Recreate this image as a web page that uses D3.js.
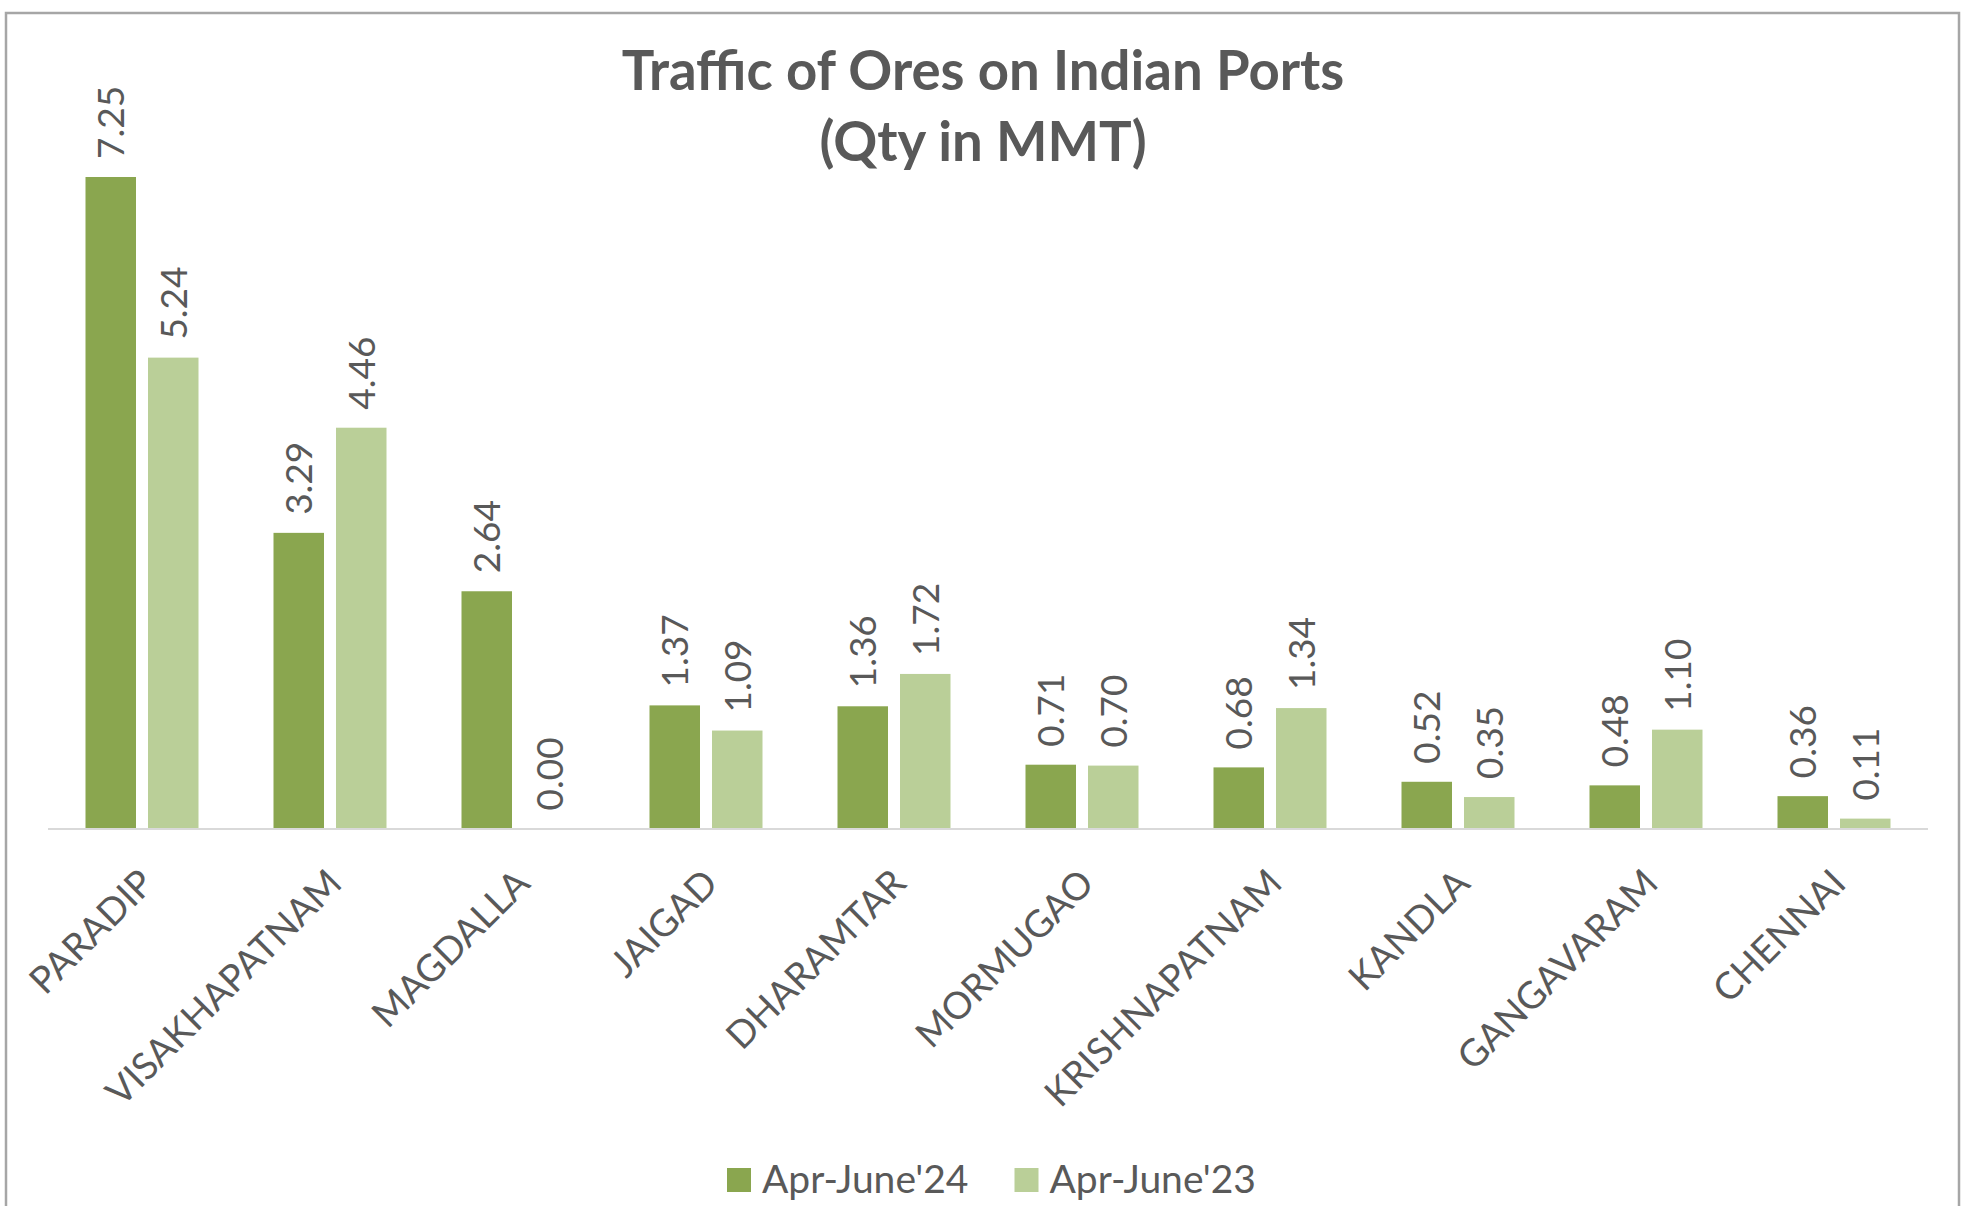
<!DOCTYPE html>
<html>
<head>
<meta charset="utf-8">
<script src="https://cdn.jsdelivr.net/npm/d3@7/dist/d3.min.js"></script>
<style>
  html, body { margin: 0; padding: 0; background: #fff; }
  svg { display: block; }
  text { font-family: Lato, "Open Sans", sans-serif; fill: #595959; }
</style>
</head>
<body>
<div id="chart"></div>
<script>
// Traffic of Ores on Indian Ports, Apr-June'24 vs Apr-June'23 (Qty in MMT)
var ports = ["PARADIP", "VISAKHAPATNAM", "MAGDALLA", "JAIGAD", "DHARAMTAR",
             "MORMUGAO", "KRISHNAPATNAM", "KANDLA", "GANGAVARAM", "CHENNAI"];
var series = ["Apr-June'24", "Apr-June'23"];
var qty24 = [7.25, 3.29, 2.64, 1.37, 1.36, 0.71, 0.68, 0.52, 0.48, 0.36];
var qty23 = [5.24, 4.46, 0.00, 1.09, 1.72, 0.70, 1.34, 0.35, 1.10, 0.11];
var yMax = 8;
var titleLines = ["Traffic of Ores on Indian Ports", "(Qty in MMT)"];

var W = 1976, H = 1206;
var DARK = "#8AA64F", LIGHT = "#BACF98", TEXT = "#595959";
var plot = { l: 48, r: 1928, t: 109.6, b: 828.5 };

var svg = d3.select("#chart").append("svg").attr("width", W).attr("height", H);
svg.append("rect").attr("width", W).attr("height", H).attr("fill", "#fff");
// chart frame (bottom edge runs past the picture)
svg.append("rect").attr("x", 6).attr("y", 13).attr("width", 1953).attr("height", 1220)
  .attr("fill", "none").attr("stroke", "#A6A6A6").attr("stroke-width", 2.5);

// title
svg.append("g").selectAll("text").data(titleLines).enter().append("text")
  .attr("x", 983).attr("y", function (d, i) { return 90 + i * 71; })
  .attr("text-anchor", "middle").attr("font-size", 54.5).attr("font-weight", 700)
  .text(function (d) { return d; });

var x = d3.scaleBand().domain(ports).range([plot.l, plot.r]);
var x1 = d3.scaleBand().domain(series).range([0, x.bandwidth()])
  .paddingInner(0.192).paddingOuter(0.6);
var y = d3.scaleLinear().domain([0, yMax]).range([plot.b, plot.t]);

var rows = ports.map(function (p, i) {
  return { port: p, vals: [{ s: series[0], v: qty24[i] }, { s: series[1], v: qty23[i] }] };
});
var color = d3.scaleOrdinal().domain(series).range([DARK, LIGHT]);

var groups = svg.append("g").selectAll("g").data(rows).enter().append("g")
  .attr("transform", function (d) { return "translate(" + x(d.port) + ",0)"; });

groups.selectAll("rect").data(function (d) { return d.vals; }).enter().append("rect")
  .attr("x", function (d) { return x1(d.s); })
  .attr("width", x1.bandwidth())
  .attr("y", function (d) { return y(d.v); })
  .attr("height", function (d) { return y(0) - y(d.v); })
  .attr("fill", function (d) { return color(d.s); });

// value labels, rotated, above each bar
groups.selectAll("text").data(function (d) { return d.vals; }).enter().append("text")
  .attr("transform", function (d) {
    return "translate(" + (x1(d.s) + x1.bandwidth() / 2) + "," + (y(d.v) - 18) + ") rotate(-90)";
  })
  .attr("dy", "0.36em").attr("font-size", 37)
  .text(function (d) { return d.v.toFixed(2); });

// axis line
svg.append("line").attr("x1", plot.l).attr("x2", plot.r)
  .attr("y1", plot.b + 0.5).attr("y2", plot.b + 0.5)
  .attr("stroke", "#D9D9D9").attr("stroke-width", 2);

// category labels at -45 degrees
var xAxis = d3.axisBottom(x).tickSize(0).tickPadding(0);
var ax = svg.append("g").attr("transform", "translate(0," + plot.b + ")").call(xAxis);
ax.select(".domain").remove();
ax.selectAll("text")
  .attr("font-size", 37.5).attr("font-family", "Lato, sans-serif").attr("fill", TEXT)
  .attr("text-anchor", "end").attr("dy", 0).attr("y", 0)
  .attr("transform", "translate(14,57) rotate(-45)");

// legend
var leg = svg.append("g");
var lx = 727;
series.forEach(function (s) {
  leg.append("rect").attr("x", lx).attr("y", 1168).attr("width", 24).attr("height", 24)
    .attr("fill", color(s));
  var t = leg.append("text").attr("x", lx + 35).attr("y", 1192.5)
    .attr("font-size", 39).text(s);
  lx = lx + 35 + t.node().getComputedTextLength() + 46;
});
</script>
</body>
</html>
